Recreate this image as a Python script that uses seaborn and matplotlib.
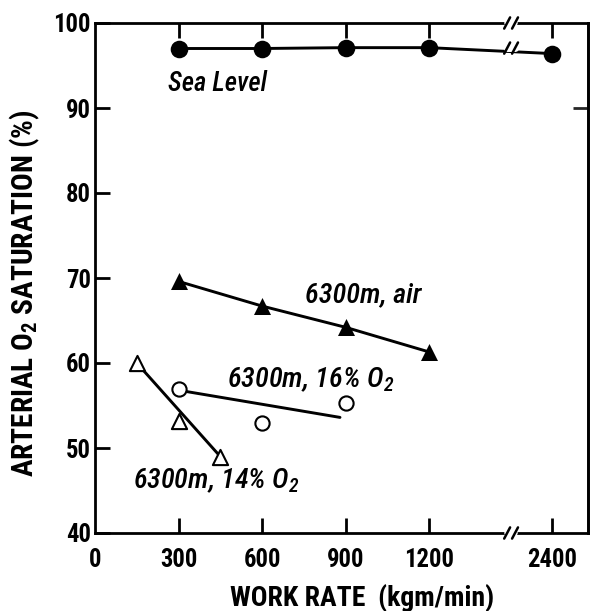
import numpy as np
import pandas as pd
import matplotlib
matplotlib.use("Agg")
import matplotlib.pyplot as plt
from matplotlib import font_manager
import seaborn as sns

# ---- data ----
sea_x = [300, 600, 900, 1200, 2400]
sea_y = [97.0, 97.0, 97.1, 97.1, 96.4]
air_x = [300, 600, 900, 1200]
air_y = [69.6, 66.7, 64.2, 61.3]
o16_x = [300, 600, 900]
o16_y = [57.0, 53.0, 55.3]
o16_fit_x = [300, 880]
o16_fit_y = [56.8, 53.6]
o14_x = [150, 300, 450]
o14_y = [60.0, 53.2, 49.0]
o14_fit_x = [150, 450]
o14_fit_y = [60.0, 49.0]
x_ticks = [0, 300, 600, 900, 1200, 2400]
y_ticks = [40, 50, 60, 70, 80, 90, 100]

sns.set_theme(style="ticks")
names = {f.name for f in font_manager.fontManager.ttflist}
fam = "DejaVu Sans"
for cand in ["Liberation Sans Narrow", "Roboto Condensed", "Open Sans Condensed",
             "DejaVu Sans Condensed", "Liberation Sans", "Roboto"]:
    if cand in names:
        fam = cand
        break
plt.rcParams["font.family"] = [fam, "DejaVu Sans"]
plt.rcParams["mathtext.fontset"] = "custom"
plt.rcParams["mathtext.rm"] = fam
plt.rcParams["mathtext.it"] = fam + ":italic"
plt.rcParams["mathtext.bf"] = fam + ":bold"
plt.rcParams["mathtext.default"] = "regular"
plt.rcParams["text.color"] = "black"

fig = plt.figure(figsize=(5.95, 6.11), dpi=100)
ax = fig.add_axes([95/595, 1-533/611, (588-95)/595, (533-23)/611])

# broken x axis: compress values above 1200
K = 0.3683
def fwd(x):
    x = np.asarray(x, dtype=float)
    return np.where(x > 1200, 1200 + (x - 1200) * K, x)
def inv(x):
    x = np.asarray(x, dtype=float)
    return np.where(x > 1200, 1200 + (x - 1200) / K, x)
ax.set_xscale("function", functions=(fwd, inv))

sea = pd.DataFrame({"x": sea_x, "y": sea_y})
air = pd.DataFrame({"x": air_x, "y": air_y})
o16 = pd.DataFrame({"x": o16_x, "y": o16_y})
o14 = pd.DataFrame({"x": o14_x, "y": o14_y})

lw = 2.1
sns.lineplot(data=sea, x="x", y="y", color="black", lw=lw, ax=ax, sort=False)
sns.scatterplot(data=sea, x="x", y="y", color="black", marker="o", s=160, ax=ax, zorder=5, linewidth=0)
sns.lineplot(data=air, x="x", y="y", color="black", lw=lw, ax=ax, sort=False)
sns.scatterplot(data=air, x="x", y="y", color="black", marker="^", s=150, ax=ax, zorder=5, linewidth=0)
ax.plot(o16_fit_x, o16_fit_y, color="black", lw=lw)
sns.scatterplot(data=o16, x="x", y="y", marker="o", s=105, facecolor="white", edgecolor="black", linewidth=1.5, ax=ax, zorder=5)
ax.plot(o14_fit_x, o14_fit_y, color="black", lw=lw)
sns.scatterplot(data=o14, x="x", y="y", marker="^", s=120, facecolor="white", edgecolor="black", linewidth=1.5, ax=ax, zorder=5)

ax.set_xlim(0, 2750)
ax.set_ylim(40, 100)
ax.set_xticks(x_ticks)
ax.set_xticklabels([str(v) for v in x_ticks])
ax.set_yticks(y_ticks)
ax.set_yticklabels([str(v) for v in y_ticks])
ax.set_xlabel("")
ax.set_ylabel("")
for s in ax.spines.values():
    s.set_linewidth(2)
    s.set_color("black")
ax.tick_params(axis="both", direction="in", length=11, width=2, labelsize=17, colors="black",
               labelcolor="black")
ax.tick_params(axis="x", pad=11, top=True)
ax.tick_params(axis="y", pad=3)
for lab in ax.get_xticklabels() + ax.get_yticklabels():
    lab.set_fontweight("bold")
ax.xaxis.get_major_ticks()[0].tick1line.set_visible(False)
ax.xaxis.get_major_ticks()[0].tick2line.set_visible(False)

sec = ax.secondary_yaxis("right")
sec.set_yticks([90])
sec.set_yticklabels([""])
sec.tick_params(direction="in", length=11, width=2)
sec.spines["right"].set_linewidth(2)

# break marks
bx = 0.844
g = 0.008
for yb in [0.0, 1.0]:
    ax.plot([bx - g, bx + g], [yb, yb], transform=ax.transAxes, color="white", lw=4, clip_on=False, zorder=10)
    for dx in (-g, g):
        ax.plot([bx + dx - 0.006, bx + dx + 0.006], [yb - 0.011, yb + 0.011], transform=ax.transAxes,
                color="black", lw=1.8, clip_on=False, zorder=11)
yl = (97.05 - 40) / 60
ax.plot([bx - g, bx + g], [yl, yl], transform=ax.transAxes, color="white", lw=5, zorder=10)
for dx in (-g, g):
    ax.plot([bx + dx - 0.006, bx + dx + 0.006], [yl - 0.011, yl + 0.011], transform=ax.transAxes,
            color="black", lw=1.8, zorder=11)

# annotations
tk = dict(fontsize=17, style="italic", color="black", va="center", ha="left", fontweight="medium")
t_sea = ax.text(262, 92.9, "Sea Level", **tk)
t_air = ax.text(754, 68.0, "6300m, air", **tk)
t_16 = ax.text(474, 58.0, r"6300m, 16% O$_2$", **tk)
t_14 = ax.text(137, 46.2, r"6300m, 14% O$_2$", **tk)

xl = fig.text(362/595, 1-606/611, "WORK RATE  (kgm/min)", ha="center", va="baseline", fontsize=23,
              fontweight="bold", color="black")
yl_t = fig.text(25/595, 1-293/611, r"ARTERIAL O$_2$ SATURATION (%)", ha="center", va="center", rotation=90,
                fontsize=20, fontweight="bold", color="black")

# scale font sizes so text widths match the reference
fig.canvas.draw()
r = fig.canvas.get_renderer()
def fit(t, target, vertical=False):
    bb = t.get_window_extent(r)
    w = bb.height if vertical else bb.width
    t.set_fontsize(t.get_fontsize() * target / w)
fit(xl, 265)
fit(yl_t, 367, vertical=True)
fit(t_sea, 99)
fit(t_16, 168)
fit(t_14, 167)
t_air.set_fontsize(t_16.get_fontsize())
lab2400 = ax.get_xticklabels()[-1]
w2400 = lab2400.get_window_extent(r).width
ts = 17 * 50 / w2400
ax.tick_params(axis="both", labelsize=ts)

fig.savefig("out.png", dpi=100)
